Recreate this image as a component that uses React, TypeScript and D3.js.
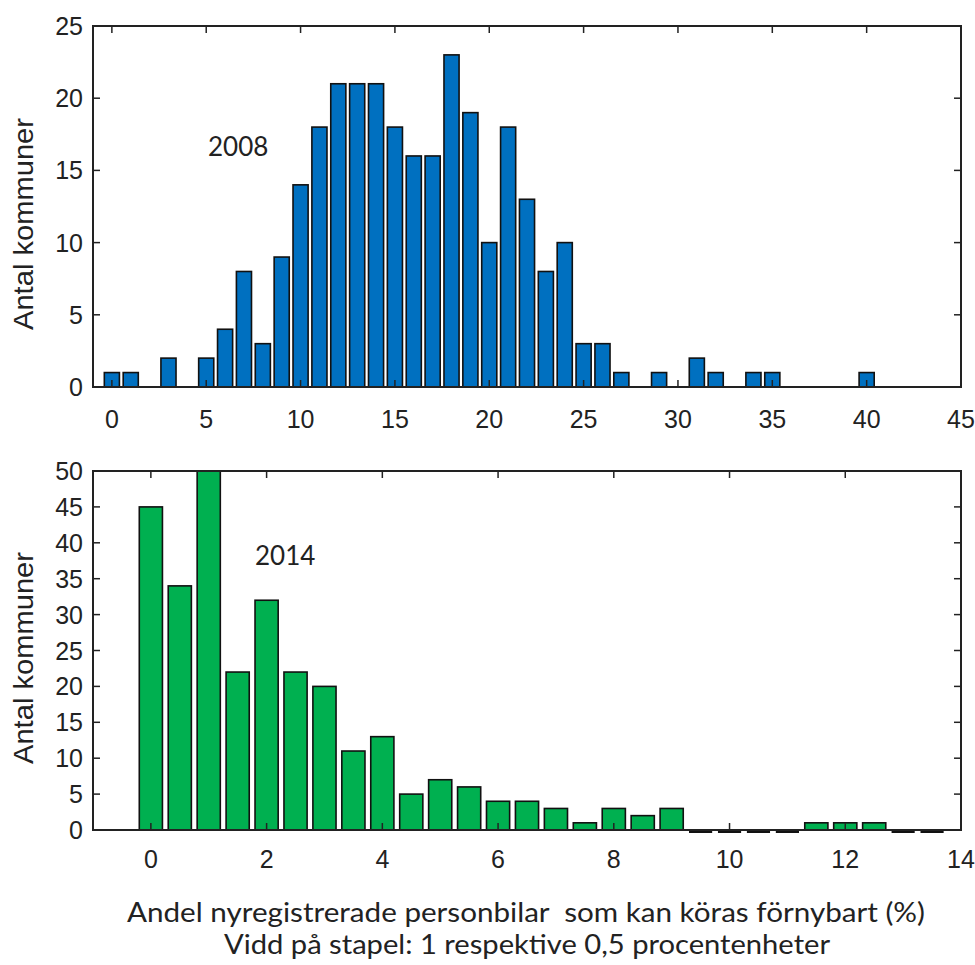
import React from 'react';
import * as d3 from 'd3';

// 2008: bin centre (%), count of kommuner (bin width 1)
const bins2008 = [0, 1, 3, 5, 6, 7, 8, 9, 10, 11, 12, 13, 14, 15, 16, 17, 18, 19, 20, 21, 22, 23, 24, 25, 26, 27, 29, 31, 32, 34, 35, 40];
const counts2008 = [1, 1, 2, 2, 4, 8, 3, 9, 14, 18, 21, 21, 21, 18, 16, 16, 23, 19, 10, 18, 13, 8, 10, 3, 3, 1, 1, 2, 1, 1, 1, 1];

// 2014: bin centre (%), count (bin width 0.5)
const bins2014 = [0, 0.5, 1, 1.5, 2, 2.5, 3, 3.5, 4, 4.5, 5, 5.5, 6, 6.5, 7, 7.5, 8, 8.5, 9, 9.5, 10, 10.5, 11, 11.5, 12, 12.5, 13, 13.5];
const counts2014 = [45, 34, 50, 22, 32, 22, 20, 11, 13, 5, 7, 6, 4, 4, 3, 1, 3, 2, 3, 0, 0, 0, 0, 1, 1, 1, 0, 0];

const xTicks2008 = [0, 5, 10, 15, 20, 25, 30, 35, 40, 45];
const yTicks2008 = [0, 5, 10, 15, 20, 25];
const xTicks2014 = [0, 2, 4, 6, 8, 10, 12, 14];
const yTicks2014 = [0, 5, 10, 15, 20, 25, 30, 35, 40, 45, 50];

const yLabel = 'Antal kommuner';
const xLabel1 = 'Andel nyregistrerade personbilar  som kan köras förnybart (%)';
const xLabel2 = 'Vidd på stapel: 1 respektive 0,5 procentenheter';

const LEFT = 93;
const RIGHT = 961;
const TICK_FONT = 'Liberation Sans, Arial, sans-serif';
const TEXT_FONT = 'Lato, Open Sans, sans-serif';

type PanelProps = {
  top: number;
  bottom: number;
  xDomain: [number, number];
  yDomain: [number, number];
  bins: number[];
  counts: number[];
  binWidth: number;
  color: string;
  xTicks: number[];
  yTicks: number[];
  label: string;
  labelX: number;
  labelY: number;
  xTickBaseline: number;
  yLabelCenter: number;
};

function Panel(p: PanelProps) {
  const x = d3.scaleLinear().domain(p.xDomain).range([LEFT, RIGHT]);
  const y = d3.scaleLinear().domain(p.yDomain).range([p.bottom, p.top]);
  const bw = (x(p.binWidth) - x(0)) * 0.8;
  const tl = 7;
  return (
    <g>
      {p.bins.map((b, i) => {
        const c = p.counts[i];
        const cx = x(b);
        if (c === 0) {
          return <line key={i} x1={cx - bw / 2} x2={cx + bw / 2} y1={y(0) + 1.5} y2={y(0) + 1.5} stroke="#111" strokeWidth={3} />;
        }
        return (
          <rect key={i} x={cx - bw / 2} y={y(c)} width={bw} height={y(0) - y(c)} fill={p.color} stroke="#111" strokeWidth={1.6} />
        );
      })}
      {p.xTicks.map((t) => (
        <g key={'xt' + t}>
          <line x1={x(t)} x2={x(t)} y1={p.top} y2={p.top + tl} stroke="#222" strokeWidth={1.5} />
          <line x1={x(t)} x2={x(t)} y1={p.bottom} y2={p.bottom - tl} stroke="#222" strokeWidth={1.5} />
          <text x={x(t)} y={p.xTickBaseline} textAnchor="middle" fontFamily={TICK_FONT} fontSize={25} fill="#222">{t}</text>
        </g>
      ))}
      {p.yTicks.map((t) => (
        <g key={'yt' + t}>
          <line x1={LEFT} x2={LEFT + tl} y1={y(t)} y2={y(t)} stroke="#222" strokeWidth={1.5} />
          <line x1={RIGHT} x2={RIGHT - tl} y1={y(t)} y2={y(t)} stroke="#222" strokeWidth={1.5} />
          <text x={83} y={y(t)} dy="0.36em" textAnchor="end" fontFamily={TICK_FONT} fontSize={25} fill="#222">{t}</text>
        </g>
      ))}
      <rect x={LEFT} y={p.top} width={RIGHT - LEFT} height={p.bottom - p.top} fill="none" stroke="#222" strokeWidth={2} />
      <text transform={`translate(33,${p.yLabelCenter}) rotate(-90)`} textAnchor="middle" fontFamily={TICK_FONT} fontSize={28} textLength={212} lengthAdjust="spacingAndGlyphs" fill="#222">{yLabel}</text>
      <text x={p.labelX} y={p.labelY} fontFamily={TEXT_FONT} fontSize={26} fill="#222">{p.label}</text>
    </g>
  );
}

export default function App() {
  return (
    <svg width={975} height={965} style={{ position: 'absolute', left: 0, top: 0, background: '#fff' }}>
      <rect width={975} height={965} fill="#fff" />
      <Panel
        top={26}
        bottom={387}
        xDomain={[-1, 45]}
        yDomain={[0, 25]}
        bins={bins2008}
        counts={counts2008}
        binWidth={1}
        color="#0070C0"
        xTicks={xTicks2008}
        yTicks={yTicks2008}
        label="2008"
        labelX={208}
        labelY={156}
        xTickBaseline={428}
        yLabelCenter={224}
      />
      <Panel
        top={471}
        bottom={830}
        xDomain={[-1, 14]}
        yDomain={[0, 50]}
        bins={bins2014}
        counts={counts2014}
        binWidth={0.5}
        color="#00B050"
        xTicks={xTicks2014}
        yTicks={yTicks2014}
        label="2014"
        labelX={255}
        labelY={565}
        xTickBaseline={868}
        yLabelCenter={658}
      />
      <text x={127} y={922} fontFamily={TEXT_FONT} fontSize={26} textLength={798} lengthAdjust="spacingAndGlyphs" style={{ whiteSpace: 'pre' }} fill="#222">{xLabel1}</text>
      <text x={224} y={954} fontFamily={TEXT_FONT} fontSize={26} textLength={606} lengthAdjust="spacingAndGlyphs" fill="#222">{xLabel2}</text>
    </svg>
  );
}
